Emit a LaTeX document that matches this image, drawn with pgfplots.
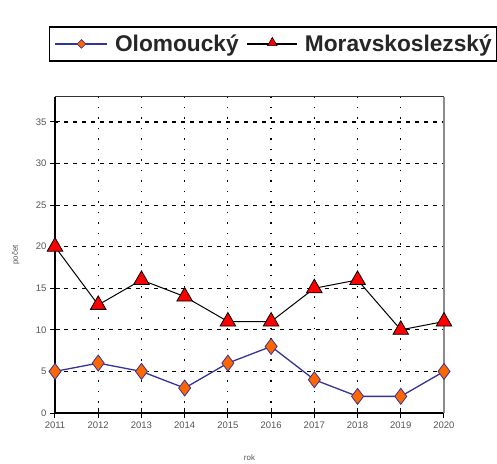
\documentclass[border=0pt]{standalone}
\usepackage{pgfplots}
\pgfplotsset{compat=1.18}
\usetikzlibrary{shapes.geometric}
\usepackage{fontspec}
\setmainfont{Liberation Sans}
\definecolor{olonavy}{HTML}{333399}
\definecolor{oloorange}{HTML}{FF6600}
\definecolor{tickgray}{HTML}{555555}
\begin{document}
\begin{tikzpicture}
\useasboundingbox (0,0) rectangle (497pt,463pt);
\begin{axis}[
  at={(55pt,50pt)}, anchor=south west,
  scale only axis, width=389pt, height=316pt,
  xmin=2011, xmax=2020, ymin=0, ymax=38,
  xtick={2011,...,2020}, ytick={0,5,...,35},
  xticklabel style={/pgf/number format/1000 sep={}},
  /pgf/number format/assume math mode=true,
  tick label style={font=\fontsize{9.5}{10}\selectfont, text=tickgray},
  xtick pos=bottom, ytick pos=left,
  tick align=center, major tick length=10pt,
  tick style={black, line width=1pt},
  grid=major,
  x grid style={black, line width=1.2pt, dash pattern=on 1.5pt off 9pt},
  y grid style={black, line width=1.2pt, dash pattern=on 3.5pt off 5.5pt},
  axis line style={draw=none},
  xlabel={rok}, ylabel={počet},
  label style={font=\fontsize{8}{9}\selectfont, text=tickgray},
  xlabel style={at={(0.5,0)}, yshift=-38pt},
  ylabel style={at={(0,0.5)}, yshift=32pt},
  legend columns=2,
  legend style={at={(0.561,1.168)}, anchor=center, draw=black, line width=1.5pt,
    font=\bfseries\fontsize{22.7}{24}\selectfont, text=black!85,
    nodes={inner sep=0pt},
    inner xsep=5pt, inner ysep=8pt,
    /tikz/every odd column/.append style={column sep=7pt},
    /tikz/every even column/.append style={column sep=8pt}},
  clip=false,
]
\addplot[olonavy, line width=1.3pt, mark=diamond*, mark size=8pt,
  mark options={fill=oloorange, draw=olonavy, line width=0.8pt},
  legend image code/.code={
    \draw[olonavy, line width=1.3pt] (0pt,0pt) -- (52pt,0pt);
    \node[diamond, fill=oloorange, draw=olonavy, line width=0.6pt, inner sep=0pt, minimum size=9pt] at (26pt,0pt) {};
  }]
coordinates {(2011,5) (2012,6) (2013,5) (2014,3) (2015,6) (2016,8) (2017,4) (2018,2) (2019,2) (2020,5)};
\addlegendentry{Olomoucký}
\addplot[black, line width=1pt, mark=triangle*, mark size=9pt,
  mark options={fill=red, draw=black, line width=0.8pt},
  legend image code/.code={
    \draw[black, line width=1.3pt] (0pt,0pt) -- (50pt,0pt);
    \node[regular polygon, regular polygon sides=3, fill=red, draw=black, line width=0.6pt, inner sep=0pt, minimum size=11pt] at (25pt,1pt) {};
  }]
coordinates {(2011,20) (2012,13) (2013,16) (2014,14) (2015,11) (2016,11) (2017,15) (2018,16) (2019,10) (2020,11)};
\addlegendentry{Moravskoslezský}
\draw[black, line width=1.6pt] (rel axis cs:0,1) -- (rel axis cs:0,0) -- (rel axis cs:1,0);
\draw[black!80, line width=1pt] (rel axis cs:0,1) -- (rel axis cs:1,1);
\draw[black!45, line width=1.2pt] (rel axis cs:1,0) -- (rel axis cs:1,1);
\end{axis}
\end{tikzpicture}
\end{document}
